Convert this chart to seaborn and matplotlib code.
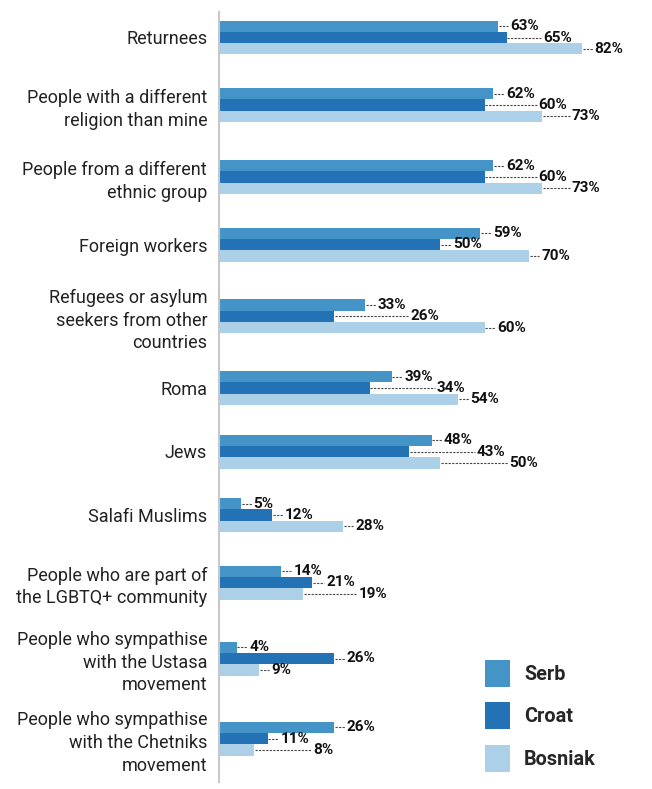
import matplotlib
matplotlib.use("Agg")
import matplotlib.pyplot as plt
from matplotlib.patches import Patch
import seaborn as sns
import pandas as pd

# Survey categories (acceptance of groups), one row per category
categories = [
    "Returnees",
    "People with a different\nreligion than mine",
    "People from a different\nethnic group",
    "Foreign workers",
    "Refugees or asylum\nseekers from other\ncountries",
    "Roma",
    "Jews",
    "Salafi Muslims",
    "People who are part of\nthe LGBTQ+ community",
    "People who sympathise\nwith the Ustasa\nmovement",
    "People who sympathise\nwith the Chetniks\nmovement",
]
groups = ["Serb", "Croat", "Bosniak"]
serb = [63, 62, 62, 59, 33, 39, 48, 5, 14, 4, 26]
croat = [65, 60, 60, 50, 26, 34, 43, 12, 21, 26, 11]
bosniak = [82, 73, 73, 70, 60, 54, 50, 28, 19, 9, 8]
colors = ["#4594c7", "#2372b6", "#abd0e7"]

# Row bands: wrapped labels get a little more room (units are pixels)
BASE_STEP = 55.0
PER_LINE = 4.2
GROUP_HEIGHT = 34.0
n_lines = [c.count("\n") + 1 for c in categories]
band_pos = [0.0]
for i in range(1, len(categories)):
    band_pos.append(band_pos[-1] + BASE_STEP + PER_LINE * (n_lines[i - 1] + n_lines[i]))
pos_of = dict(zip(categories, band_pos))

rows = []
for g, vals in zip(groups, [serb, croat, bosniak]):
    for c, v in zip(categories, vals):
        rows.append({"category": c, "pos": pos_of[c], "group": g, "value": v})
df = pd.DataFrame(rows)

sns.set_theme(style="white")
plt.rcParams["font.family"] = ["Roboto", "DejaVu Sans"]

W, H = 652, 789
fig = plt.figure(figsize=(W / 100, H / 100), dpi=100)
ax_top, ax_bottom = 12, 782
ax = fig.add_axes([219 / W, 1 - ax_bottom / H, 1 - 219 / W, (ax_bottom - ax_top) / H])

min_step = min(b - a for a, b in zip(band_pos[:-1], band_pos[1:]))
sns.barplot(data=df, y="pos", x="value", hue="group", orient="h",
            native_scale=True, palette=colors, width=GROUP_HEIGHT / min_step,
            saturation=1, legend=False, linewidth=0, ax=ax)

ax.set_xlim(0, 97.8)
first_center = 37.5
ax.set_ylim(ax_bottom - ax_top - (first_center - ax_top), -(first_center - ax_top))
ax.set_xlabel("")
ax.set_ylabel("")
ax.set_xticks([])
ax.set_yticks(band_pos, categories)
for s in ["top", "right", "bottom"]:
    ax.spines[s].set_visible(False)
ax.spines["left"].set_color("#c8c8c8")
ax.spines["left"].set_linewidth(1.5)
ax.tick_params(axis="y", length=0, pad=8.5, labelsize=13, labelcolor="#222222")
for t in ax.get_yticklabels():
    t.set_linespacing(1.33)
    t.set_multialignment("right")

# Value labels with dotted leader lines, staggered so neighbours don't collide
fig.canvas.draw()
renderer = fig.canvas.get_renderer()
px_per_unit = ax.transData.transform((1, 0))[0] - ax.transData.transform((0, 0))[0]
gap = 12.5 / px_per_unit
pad = 4 / px_per_unit

bars_by_hue = [sorted(cont.patches, key=lambda b: b.get_y()) for cont in ax.containers]
for j in range(len(categories)):
    prev = None
    for k in range(len(groups)):
        bar = bars_by_hue[k][j]
        end = bar.get_width()
        yc = bar.get_y() + bar.get_height() / 2
        txt = ax.text(end + gap, yc, f"{int(round(end))}%", ha="left", va="center",
                      fontsize=11, fontweight="bold", color="#111111")
        w = txt.get_window_extent(renderer).width / px_per_unit
        x = end + gap
        if prev is not None:
            px, pw = prev
            if x < px + pw + pad and x + w > px - pad:
                x = px + pw + pad
        txt.set_x(x)
        ax.plot([end + 0.15, x - 0.45], [yc, yc], color="#444444",
                linewidth=0.8, linestyle=(0, (2, 1.2)))
        prev = (x, w)

handles = [Patch(facecolor=c, edgecolor="none") for c in colors]
ax.legend(handles, groups, loc="upper left",
          bbox_to_anchor=(485 / W, 1 - 660 / H), bbox_transform=fig.transFigure,
          frameon=False, borderpad=0, borderaxespad=0,
          handlelength=1.26, handleheight=1.71, labelspacing=0.78,
          handletextpad=0.7, prop={"weight": "bold", "size": 14.3})

fig.savefig("out.png", dpi=100)
